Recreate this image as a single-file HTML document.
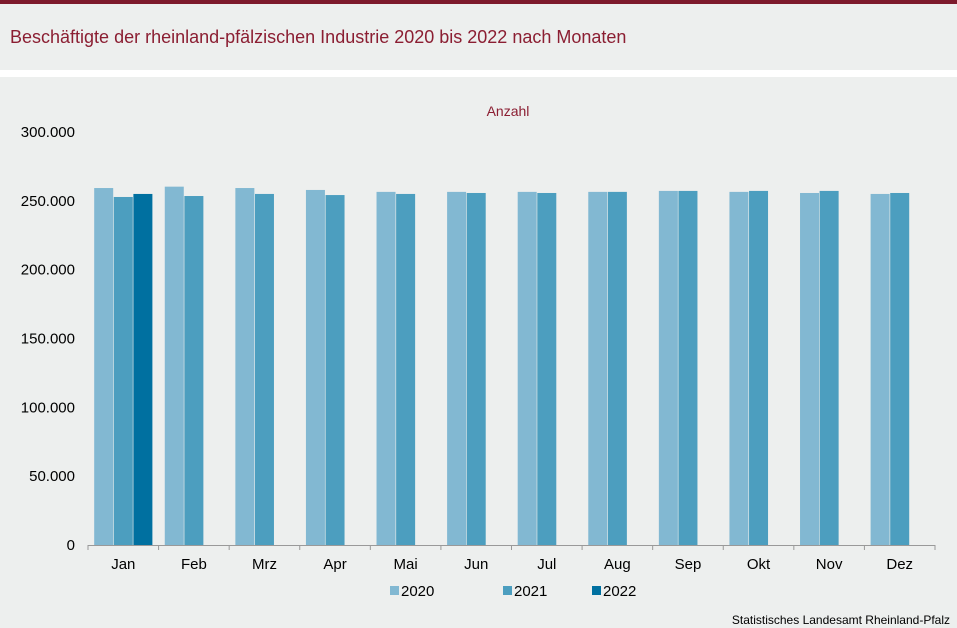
<!DOCTYPE html>
<html><head><meta charset="utf-8"><style>
body{margin:0;width:957px;height:628px;background:#edefee;font-family:"Liberation Sans",sans-serif;overflow:hidden;position:relative}
.top{position:absolute;left:0;top:0;width:957px;height:4px;background:#7d1a2c}
.title{position:absolute;left:10px;top:27px;font-size:18px;color:#8b1e32}
.stripe{position:absolute;left:0;top:70px;width:957px;height:7px;background:#fff}
svg{position:absolute;left:0;top:0}
</style></head><body>
<div class="top"></div>
<div class="title">Beschäftigte der rheinland-pfälzischen Industrie 2020 bis 2022 nach Monaten</div>
<div class="stripe"></div>
<svg id="chart" width="957" height="628"></svg>
<script>
const categories=["Jan","Feb","Mrz","Apr","Mai","Jun","Jul","Aug","Sep","Okt","Nov","Dez"];
const s2020=[259300,260300,259300,257900,256500,256500,256500,256500,257200,256500,255700,255000];
const s2021=[252800,253500,255000,254200,255000,255700,255700,256500,257200,257200,257200,255700];
const s2022=[255000,null,null,null,null,null,null,null,null,null,null,null];
const yTicks=[0,50000,100000,150000,200000,250000,300000];
const yTickLabels=["0","50.000","100.000","150.000","200.000","250.000","300.000"];
const seriesNames=["2020","2021","2022"];
const colors=["#82b8d2","#4c9ebf","#0070a0"];
const svg=document.getElementById('chart');const NS="http://www.w3.org/2000/svg";
const x0=88,x1=935,y0=545,yTop=132,yMax=300000;
const y=v=>y0-(v/yMax)*(y0-yTop);
const bw=(x1-x0)/categories.length;
function mk(t,a,txt){const e=document.createElementNS(NS,t);for(const k in a)e.setAttribute(k,a[k]);if(txt!=null)e.textContent=txt;svg.appendChild(e);return e;}
let e=mk('text',{x:508,y:116,'text-anchor':'middle','font-size':14,fill:'#8b1e32'},'Anzahl');


yTicks.forEach((t,i)=>{const l=mk('text',{x:75,y:y(t)+5,'text-anchor':'end','font-size':15,fill:'#000'},yTickLabels[i]);

});
const all=[s2020,s2021,s2022];
const barW=19,gap=0.6;
categories.forEach((c,i)=>{const cx=x0+bw*(i+0.5);const start=cx-(3*barW+2*gap)/2;
all.forEach((s,j)=>{if(s[i]==null)return;const r=mk('rect',{x:start+j*(barW+gap),y:y(s[i]),width:barW,height:y0-y(s[i]),fill:colors[j]});

});
const l=mk('text',{x:cx,y:569,'text-anchor':'middle','font-size':15,fill:'#000'},c);


const tk=mk('line',{x1:x0+bw*i,x2:x0+bw*i,y1:y0,y2:y0+5,stroke:'#999','stroke-width':1});

});
const tk2=mk('line',{x1:x1,x2:x1,y1:y0,y2:y0+5,stroke:'#999'});


const ax=mk('line',{x1:x0,x2:x1,y1:y0+0.5,y2:y0+0.5,stroke:'#999'});


const lx=[390,503,592];
seriesNames.forEach((n,j)=>{const r=mk('rect',{x:lx[j],y:586,width:9,height:9,fill:colors[j]});


const t=mk('text',{x:lx[j]+11,y:596,'font-size':15,fill:'#000'},n);

});
const src=mk('text',{x:950,y:624,'text-anchor':'end','font-size':12,fill:'#000'},'Statistisches Landesamt  Rheinland-Pfalz');


</script>
</body></html>
